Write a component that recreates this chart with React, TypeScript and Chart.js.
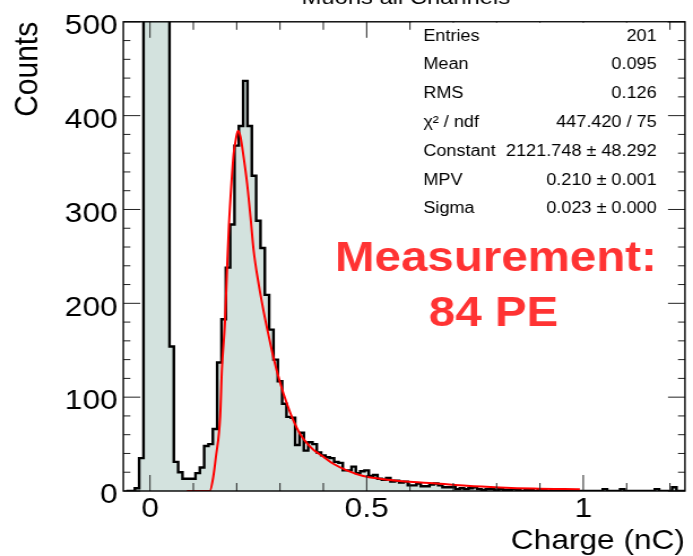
import React, { useEffect, useRef } from 'react';
import { Chart, registerables } from 'chart.js';

Chart.register(...registerables);

// ---- data ----
const BIN_START = -0.055;
const BIN_WIDTH = 0.01;
const counts = [
  0, 0, 3, 35, 900, 2600, 3000, 2200, 1300, 650,
  154, 31, 20, 13, 13, 13, 19, 25, 48, 50,
  66, 137, 183, 238, 284, 368, 389, 437, 389, 336,
  288, 259, 209, 172, 140, 117, 93, 79, 78, 49,
  62, 43, 52, 50, 41, 38, 36, 35, 31, 30,
  22, 22, 26, 19, 21, 22, 16, 17, 13, 12,
  14, 10, 11, 9, 10, 6, 6, 8, 5, 5,
  7, 8, 6, 4, 4, 4, 2, 3, 2, 3,
  4, 2, 1, 2, 2, 1, 2, 1, 1, 2,
  1, 0, 1, 1, 0, 1, 1, 0, 1, 0,
  1, 0, 0, 0, 0, 0, 0, 0, 0, 0,
  2, 0, 0, 0, 2, 0, 0, 0, 0, 0,
  0, 0, 2, 0, 0, 0, 4, 0, 0,
];
const fitX = [0.085, 0.138, 0.146, 0.152, 0.162, 0.166, 0.173, 0.178, 0.182, 0.188, 0.193, 0.199, 0.203, 0.209, 0.216, 0.224, 0.232, 0.239, 0.251, 0.262, 0.274, 0.285, 0.300, 0.316, 0.331, 0.346, 0.362, 0.377, 0.400, 0.423, 0.454, 0.492, 0.531, 0.569, 0.608, 0.654, 0.731, 0.808, 0.885, 0.992];
const fitY = [0, 0, 15, 36, 80, 130, 180, 239, 282, 328, 359, 377, 384, 377, 356, 328, 292, 257, 220, 192, 165, 142, 116, 93, 75, 61, 51, 44, 36.5, 29, 22, 16, 13, 11, 9.5, 8.3, 5.6, 3.8, 2.6, 1.8];
const xTickValues = [0, 0.5, 1];
const yTickValues = [0, 100, 200, 300, 400, 500];
const statNames = ['Entries', 'Mean', 'RMS', 'χ² / ndf', 'Constant', 'MPV', 'Sigma'];
const statValues = ['201', '0.095', '0.126', '447.420 / 75', '2121.748 ± 48.292', '0.210 ± 0.001', '0.023 ± 0.000'];
const noteLines = ['Measurement:', '84 PE'];
const histTitle = 'Muons all Channels';
const xTitle = 'Charge (nC)';
const yTitle = 'Counts';

// ---- layout (internal canvas is stretched horizontally like the reference) ----
const OUT_W = 693;
const OUT_H = 556;
const IN_W = 613;
const SX = OUT_W / IN_W;
const FONT = '"Liberation Sans", Arial, Helvetica, sans-serif';

const rootPlugin = {
  id: 'rootFrame',
  afterDatasetsDraw(chart: any) {
    const { ctx, chartArea: a, scales } = chart;
    const xs = scales.x;
    const ys = scales.y;
    ctx.save();
    // ticks
    ctx.strokeStyle = '#222';
    ctx.lineWidth = 1;
    ctx.beginPath();
    for (let i = 0; i <= 12; i++) {
      const px = xs.getPixelForValue(i / 10);
      if (px < a.left || px > a.right) continue;
      const len = i % 5 === 0 ? 16 : 8;
      ctx.moveTo(px, a.bottom);
      ctx.lineTo(px, a.bottom - len);
      ctx.moveTo(px, a.top);
      ctx.lineTo(px, a.top + len);
    }
    for (let v = 0; v <= 500; v += 20) {
      const py = ys.getPixelForValue(v);
      const len = v % 100 === 0 ? 15 : 6.2;
      ctx.moveTo(a.left, py);
      ctx.lineTo(a.left + len, py);
      ctx.moveTo(a.right, py);
      ctx.lineTo(a.right - len, py);
    }
    ctx.stroke();
    // frame
    ctx.strokeStyle = '#000';
    ctx.lineWidth = 1.4;
    ctx.strokeRect(a.left, a.top, a.right - a.left, a.bottom - a.top);

    // stats box
    ctx.fillStyle = '#fff';
    ctx.fillRect(364.4, a.top + 1, 590 - 364.4, 226 - a.top - 1);
    ctx.fillStyle = '#000';
    ctx.font = `16px ${FONT}`;
    ctx.textBaseline = 'middle';
    statNames.forEach((n, i) => {
      const y = 36.2 + i * 28.8;
      ctx.textAlign = 'left';
      ctx.fillText(n, 374.4, y);
      ctx.textAlign = 'right';
      ctx.fillText(statValues[i], 580.9, y);
    });

    // red note
    ctx.fillStyle = '#ff3333';
    ctx.font = `bold 42px ${FONT}`;
    ctx.textAlign = 'center';
    ctx.textBaseline = 'alphabetic';
    ctx.fillText(noteLines[0], 438.7, 271);
    ctx.fillText(noteLines[1], 436.5, 326);

    // clipped histogram title at the very top
    ctx.fillStyle = '#000';
    ctx.font = `21px ${FONT}`;
    ctx.fillText(histTitle, 359, 3.5);
    ctx.restore();
  },
};

export default function App() {
  const ref = useRef<HTMLCanvasElement | null>(null);
  useEffect(() => {
    if (!ref.current) return;
    const histPoints = counts.map((c, k) => ({ x: BIN_START + k * BIN_WIDTH, y: c }));
    histPoints.push({ x: BIN_START + counts.length * BIN_WIDTH, y: 0 });
    const fitPoints = fitX.map((x, i) => ({ x, y: fitY[i] }));
    const chart = new Chart(ref.current, {
      type: 'line',
      data: {
        datasets: [
          {
            label: 'fit',
            data: fitPoints,
            borderColor: '#ff0000',
            borderWidth: 2,
            pointRadius: 0,
            fill: false,
            cubicInterpolationMode: 'monotone',
            order: 1,
          },
          {
            label: 'hist',
            data: histPoints,
            borderColor: '#000',
            borderWidth: 2.4,
            backgroundColor: '#d3e2de',
            fill: 'origin',
            stepped: 'before',
            pointRadius: 0,
            borderJoinStyle: 'miter',
            order: 2,
          },
        ],
      } as any,
      options: {
        animation: false,
        responsive: true,
        maintainAspectRatio: false,
        layout: { padding: { top: 19, right: 7.1, left: 0, bottom: 0 } },
        plugins: { legend: { display: false }, tooltip: { enabled: false }, title: { display: false } },
        scales: {
          x: {
            type: 'linear',
            min: -0.0616,
            max: 1.2347,
            grid: { display: false, drawTicks: false },
            border: { display: false },
            afterBuildTicks: (s: any) => { s.ticks = xTickValues.map((v) => ({ value: v })); },
            afterFit: (s: any) => { s.height = 65; },
            ticks: {
              font: { family: FONT, size: 28 },
              color: '#000',
              padding: 1,
              maxRotation: 0,
              autoSkip: false,
              callback: (v: any) => String(+v),
            },
            title: {
              display: true,
              text: xTitle,
              align: 'end',
              color: '#000',
              font: { family: FONT, size: 28, lineHeight: 1.05 },
              padding: 0,
            },
          },
          y: {
            type: 'linear',
            min: 0,
            max: 500,
            grid: { display: false, drawTicks: false },
            border: { display: false },
            afterBuildTicks: (s: any) => { s.ticks = yTickValues.map((v) => ({ value: v })); },
            afterFit: (s: any) => { s.width = 109.07; },
            ticks: {
              font: { family: FONT, size: 28 },
              color: '#000',
              padding: 5,
              labelOffset: 4.5,
              autoSkip: false,
            },
            title: {
              display: true,
              text: yTitle,
              align: 'end',
              color: '#000',
              font: { family: FONT, size: 30 },
              padding: { top: 7, bottom: 0 },
            },
          },
        },
      } as any,
      plugins: [rootPlugin],
    });
    return () => chart.destroy();
  }, []);

  return (
    <div style={{ position: 'fixed', left: 0, top: 0, width: OUT_W, height: OUT_H, overflow: 'hidden', background: '#fff' }}>
      <div style={{ position: 'relative', width: IN_W, height: OUT_H, transform: `scaleX(${SX})`, transformOrigin: '0 0' }}>
        <canvas ref={ref} />
      </div>
    </div>
  );
}
